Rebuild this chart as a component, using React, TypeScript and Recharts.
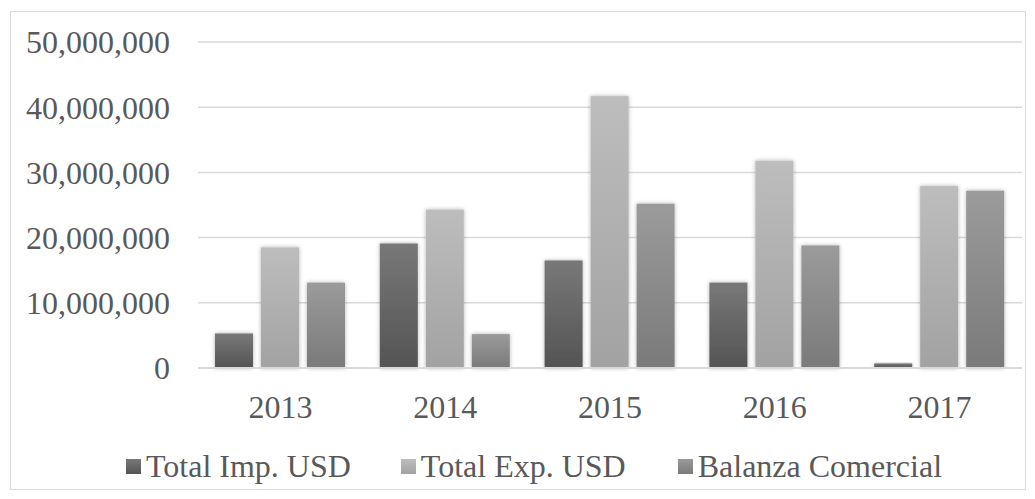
import React from 'react';
import { BarChart, Bar, XAxis, YAxis, CartesianGrid, Legend } from 'recharts';

// values in USD
const years = ['2013', '2014', '2015', '2016', '2017'];
const totalImp = [5300000, 19100000, 16500000, 13100000, 700000];
const totalExp = [18500000, 24300000, 41700000, 31800000, 27900000];
const balanza = [13100000, 5200000, 25200000, 18800000, 27200000];
const yTicks = [0, 10000000, 20000000, 30000000, 40000000, 50000000];

const SERIES = [
  { key: 'imp', label: 'Total Imp. USD', top: '#787878', bottom: '#545454' },
  { key: 'exp', label: 'Total Exp. USD', top: '#bdbdbd', bottom: '#a2a2a2' },
  { key: 'bal', label: 'Balanza Comercial', top: '#9b9b9b', bottom: '#7a7a7a' },
];

const FONT = '"Liberation Serif", "Times New Roman", serif';
const TEXT = '#595959';

const data = years.map((year, i) => ({
  year,
  imp: totalImp[i],
  exp: totalExp[i],
  bal: balanza[i],
}));

const ShadowBar = (props: any) => {
  const { x, y, width, height, fill } = props;
  if (!height || height <= 0) return null;
  return <rect x={x} y={y} width={width} height={height} fill={fill} filter="url(#barShadow)" />;
};

const LegendContent = () => (
  <div
    style={{
      display: 'flex',
      alignItems: 'center',
      height: 40,
      paddingLeft: 126,
      fontFamily: FONT,
      fontSize: 32,
      color: TEXT,
      lineHeight: '40px',
      whiteSpace: 'nowrap',
    }}
  >
    {SERIES.map((s, i) => (
      <div key={s.key} style={{ display: 'flex', alignItems: 'center', marginRight: i === 0 ? 50 : 52 }}>
        <span
          style={{
            display: 'inline-block',
            width: 15,
            height: 15,
            marginRight: 5,
            background: `linear-gradient(${s.top}, ${s.bottom})`,
          }}
        />
        <span>{s.label}</span>
      </div>
    ))}
  </div>
);

export default function App() {
  return (
    <div style={{ position: 'absolute', left: 0, top: 0, width: 1035, height: 499, background: '#fff' }}>
      <div
        style={{
          position: 'absolute',
          left: 10,
          top: 11,
          width: 1014,
          height: 477,
          border: '1.5px solid #d9d9d9',
        }}
      />
      <BarChart
        width={1035}
        height={499}
        data={data}
        margin={{ top: 42, right: 13, left: 0, bottom: 41 }}
        barSize={38}
        barGap={8}
      >
        <defs>
          {SERIES.map((s) => (
            <linearGradient key={s.key} id={`g-${s.key}`} x1="0" y1="0" x2="0" y2="1">
              <stop offset="0%" stopColor={s.top} />
              <stop offset="100%" stopColor={s.bottom} />
            </linearGradient>
          ))}
          <filter id="barShadow" x="-30%" y="-10%" width="160%" height="120%">
            <feDropShadow dx="0" dy="0" stdDeviation="2" floodColor="#000" floodOpacity="0.3" />
          </filter>
        </defs>
        <CartesianGrid vertical={false} stroke="#d9d9d9" strokeWidth={1.5} />
        <XAxis
          dataKey="year"
          height={50}
          tickLine={false}
          tickSize={0}
          tickMargin={27}
          axisLine={{ stroke: '#d9d9d9', strokeWidth: 2 }}
          tick={{ fontFamily: FONT, fontSize: 32, fill: TEXT }}
        />
        <YAxis
          width={198}
          domain={[0, 50000000]}
          ticks={yTicks}
          axisLine={false}
          tickLine={false}
          tickSize={0}
          tickMargin={28}
          tickFormatter={(v: number) => v.toLocaleString('en-US')}
          tick={{ fontFamily: FONT, fontSize: 32, fill: TEXT }}
        />
        <Legend
          content={<LegendContent />}
          wrapperStyle={{ top: 446, left: 0, width: 1035, height: 40, bottom: 'auto' }}
        />
        {SERIES.map((s) => (
          <Bar
            key={s.key}
            dataKey={s.key}
            name={s.label}
            fill={`url(#g-${s.key})`}
            shape={ShadowBar}
            isAnimationActive={false}
          />
        ))}
      </BarChart>
    </div>
  );
}
